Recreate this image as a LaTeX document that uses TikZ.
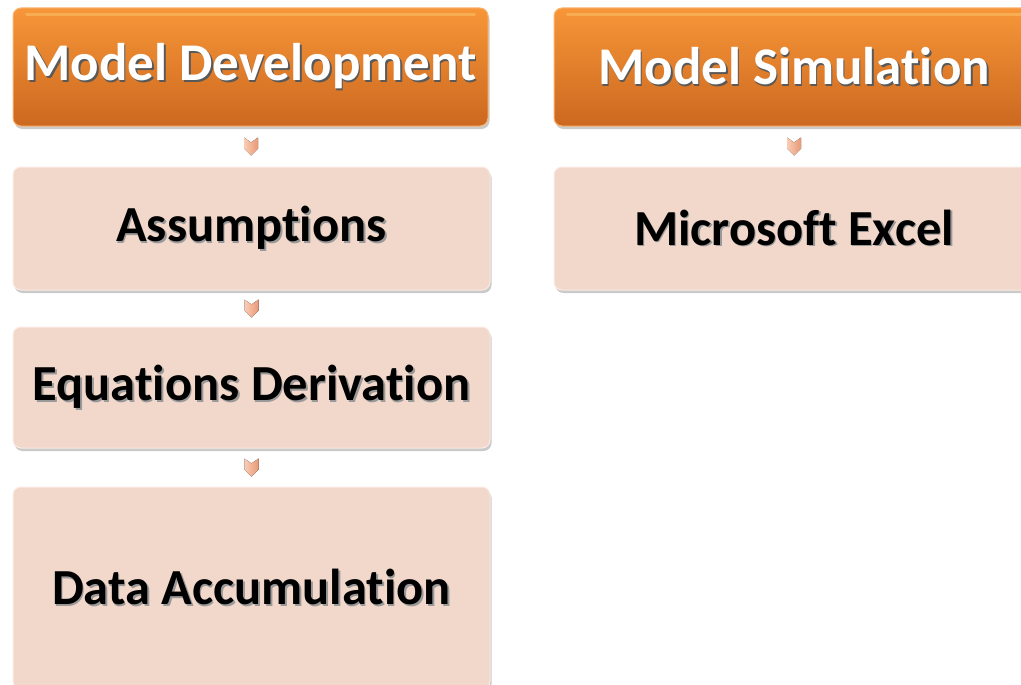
\documentclass[tikz,border=0pt]{standalone}
\usepackage{fontspec}
\setmainfont{Carlito}[Ligatures=NoCommon]
\usetikzlibrary{shadows}

\definecolor{orangetop}{RGB}{247,150,56}
\definecolor{orangebot}{RGB}{204,104,32}
\definecolor{orangeglow}{RGB}{252,185,95}
\definecolor{pinkfill}{RGB}{242,215,203}
\definecolor{pinkedge}{RGB}{250,235,228}
\definecolor{arrowlight}{RGB}{250,205,180}
\definecolor{arrowdark}{RGB}{232,152,118}

% text with a soft offset shadow behind it
\newcommand\shadowed[2]{{\leavevmode\rlap{\kern1.6pt\raisebox{-1.6pt}{\color{#1}#2}}#2}}

\tikzset{
  basebox/.style={rounded corners=8pt, line width=1pt,
    drop shadow={shadow xshift=1.5pt, shadow yshift=-3pt, opacity=0.35, fill=black!60},
    align=center, inner sep=0pt},
  headbox/.style={basebox, draw=orangetop!70!white, top color=orangetop, bottom color=orangebot,
    text=white, font=\fontsize{53}{58}\selectfont\bfseries},
  stepbox/.style={basebox, draw=pinkedge, fill=pinkfill, text=black,
    font=\fontsize{50.5}{56}\selectfont\bfseries},
  chevron/.style={left color=arrowlight, right color=arrowdark, draw=none},
}

% headline and step labels, lowered slightly to sit at the box centres
\newcommand\headtext[1]{\raisebox{-2pt}{\shadowed{black!65}{#1}}}
\newcommand\steptext[1]{\raisebox{-3pt}{\shadowed{black!40}{#1}}}
% small notched down-arrow at a named coordinate
\newcommand\downchevron[1]{%
  \fill[chevron] ([shift={(-7,-9)}]#1) -- ([shift={(0,-4)}]#1) -- ([shift={(7,-9)}]#1)
    -- ([shift={(7,2)}]#1) -- ([shift={(0,9)}]#1) -- ([shift={(-7,2)}]#1) -- cycle;}

\begin{document}
\begin{tikzpicture}[x=1pt, y=-1pt]
  \useasboundingbox (0,0) rectangle (1021,685);

  % left column
  \node[headbox, minimum width=475pt, minimum height=118pt] (dev) at (250.5,67)
    {\headtext{Model Development}};
  \node[stepbox, minimum width=477pt, minimum height=123pt] (ass) at (251.5,228.5)
    {\steptext{Assumptions}};
  \node[stepbox, minimum width=477pt, minimum height=121pt] (equ) at (251.5,387.5)
    {\steptext{Equations Derivation}};
  \node[stepbox, minimum width=477pt, minimum height=202pt] (dat) at (251.5,588)
    {\steptext{Data Accumulation}};

  % right column
  \node[headbox, minimum width=480pt, minimum height=118pt] (sim) at (794,67)
    {\headtext{Model Simulation}};
  \node[stepbox, minimum width=480pt, minimum height=123pt] (exc) at (794,228.5)
    {\steptext{Microsoft Excel}};

  % glossy highlight just inside the top of the headline boxes
  \foreach \b in {dev,sim}
    \draw[orangeglow, line width=3pt, line cap=round, opacity=0.7]
      ([shift={(14,7)}]\b.north west) -- ([shift={(-14,7)}]\b.north east);

  % small downward arrows between consecutive boxes
  \path (dev.south) -- (ass.north) coordinate[midway] (a1);
  \path (ass.south) -- (equ.north) coordinate[midway] (a2);
  \path (equ.south) -- (dat.north) coordinate[midway] (a3);
  \path (sim.south) -- (exc.north) coordinate[midway] (a4);
  \foreach \c in {a1,a2,a3,a4} { \downchevron{\c} }
\end{tikzpicture}
\end{document}
